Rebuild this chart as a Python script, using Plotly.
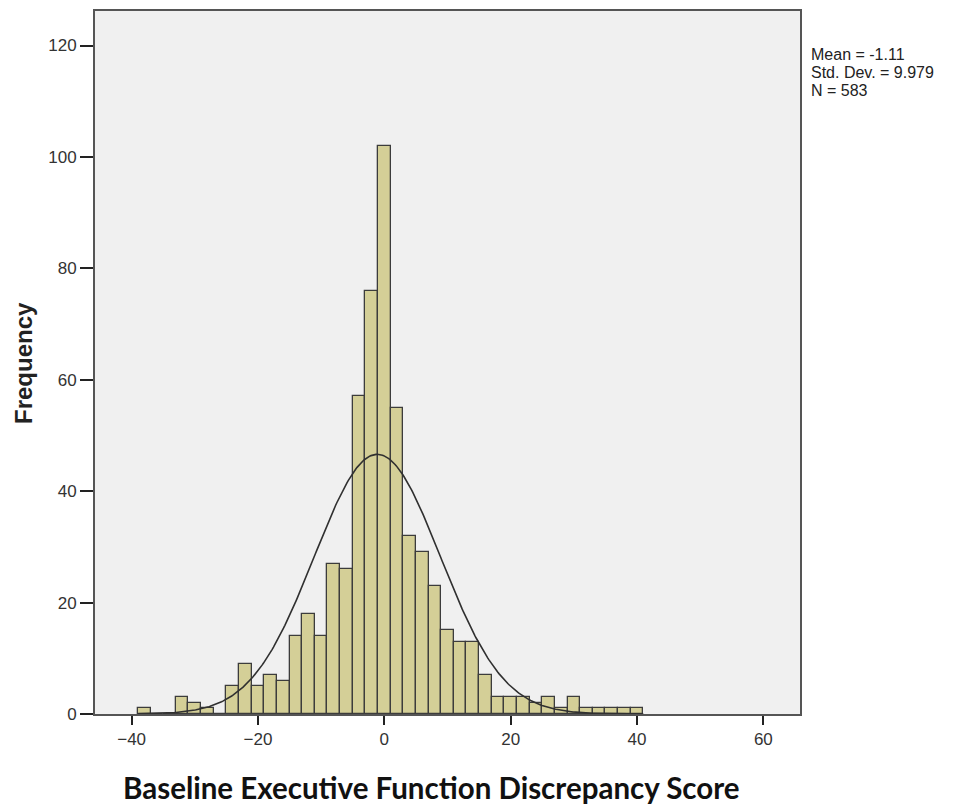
import numpy as np
import plotly.graph_objects as go

# Histogram bins (centers, width 2) and frequencies
bin_centers = [-38, -36, -34, -32, -30, -28, -26, -24, -22, -20, -18, -16, -14, -12, -10,
               -8, -6, -4, -2, 0, 2, 4, 6, 8, 10, 12, 14, 16, 18, 20, 22, 24, 26, 28, 30,
               32, 34, 36, 38, 40]
frequencies = [1, 0, 0, 3, 2, 1, 0, 5, 9, 5, 7, 6, 14, 18, 14,
               27, 26, 57, 76, 102, 55, 32, 29, 23, 15, 13, 13, 7, 3, 3, 3, 2, 3, 1, 3,
               1, 1, 1, 1, 1]
bin_width = 2
mean_val = -1.11
sd_val = 9.979
n_val = 583
x_ticks = [-40, -20, 0, 20, 40, 60]
y_ticks = [0, 20, 40, 60, 80, 100, 120]

# Fitted normal curve scaled to counts
xc = np.linspace(-39, 41, 400)
yc = n_val * bin_width / (sd_val * np.sqrt(2 * np.pi)) * np.exp(-0.5 * ((xc - mean_val) / sd_val) ** 2)

# page body has an 8px margin; frame target in screen pixels
OFF = 8
L, T, R, B = 95, 9, 800, 714
W, H = 964 - OFF, 807 - OFF
PW, PH = R - L, B - T


def xp(px):
    return (px - L) / PW


def yp(py):
    return (B - py) / PH


fig = go.Figure()
fig.add_trace(go.Bar(
    x=bin_centers, y=frequencies, width=bin_width,
    marker=dict(color="#D4CF97", line=dict(color="#3C3C3C", width=1.3)),
    showlegend=False, hoverinfo="x+y"))
fig.add_trace(go.Scatter(
    x=xc, y=yc, mode="lines", line=dict(color="#303030", width=1.6),
    showlegend=False, hoverinfo="skip"))

axis_font = dict(family="Liberation Sans, Arial, sans-serif", size=17, color="#333333")
stat_font = dict(family="Liberation Sans, Arial, sans-serif", size=16, color="#222")

fig.update_layout(
    width=W, height=H,
    margin=dict(l=L - OFF, r=W - (R - OFF), t=T - OFF, b=H - (B - OFF)),
    paper_bgcolor="white", plot_bgcolor="#F0F0F0",
    bargap=0,
    xaxis=dict(range=[-45.8, 65.8], tickvals=x_ticks, ticks="outside", ticklen=9,
               tickwidth=2, tickcolor="#222", showgrid=False, zeroline=False,
               showline=True, linecolor="#555", linewidth=2, mirror=True,
               tickfont=axis_font),
    yaxis=dict(range=[0, 126.2], tickvals=y_ticks, ticks="outside", ticklen=13,
               tickwidth=2, tickcolor="#222", showgrid=False, zeroline=False,
               showline=True, linecolor="#555", linewidth=2, mirror=True,
               tickfont=axis_font),
    annotations=[
        dict(text="<b>Baseline Executive Function Discrepancy Score</b>", xref="paper", yref="paper",
             x=xp(431), y=yp(788), xanchor="center", yanchor="middle",
             showarrow=False, font=dict(family="Lato, sans-serif", size=29.5, color="#111")),
        dict(text="<b>Frequency</b>", xref="paper", yref="paper", textangle=-90,
             x=xp(24), y=yp(362), xanchor="center", yanchor="middle",
             showarrow=False, font=dict(family="Liberation Sans, Arial, sans-serif", size=24, color="#222")),
        dict(text="Mean = -1.11", xref="paper", yref="paper", x=xp(809),
             y=yp(53), xanchor="left", yanchor="middle", showarrow=False, font=stat_font),
        dict(text="Std. Dev. = 9.979", xref="paper", yref="paper", x=xp(809),
             y=yp(71), xanchor="left", yanchor="middle", showarrow=False, font=stat_font),
        dict(text="N = 583", xref="paper", yref="paper", x=xp(809),
             y=yp(89), xanchor="left", yanchor="middle", showarrow=False, font=stat_font),
    ],
)

fig.write_html("out.html")
